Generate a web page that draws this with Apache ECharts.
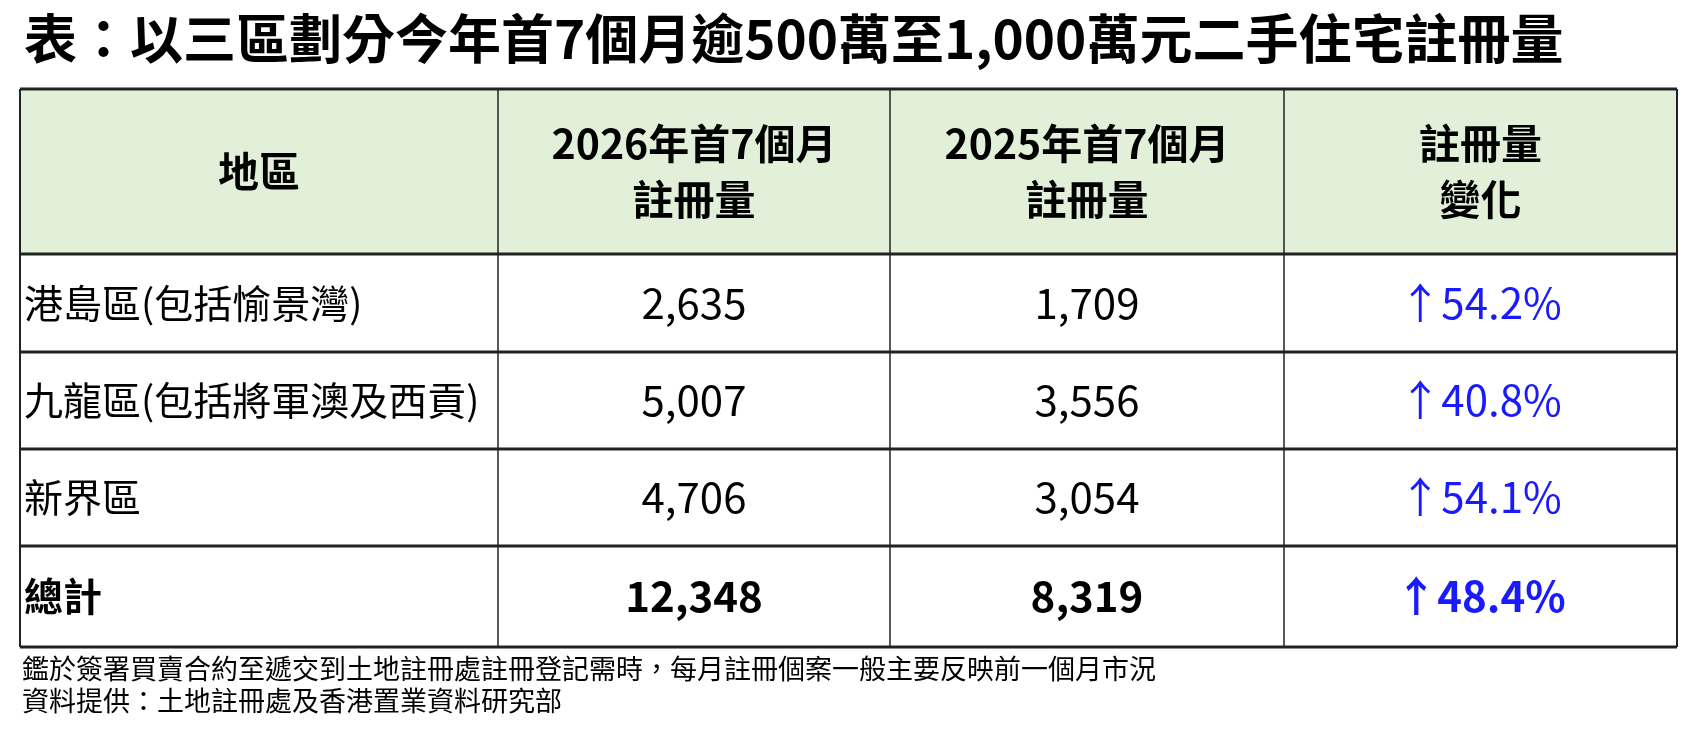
<!DOCTYPE html>
<html>
<head>
<meta charset="utf-8">
<script src="https://cdn.jsdelivr.net/npm/echarts@6/dist/echarts.min.js"></script>
<style>html,body{margin:0;padding:0;background:#fff}#main{width:1696px;height:733px}</style>
</head>
<body>
<div id="main"></div>
<script>
// 表格數據
const titleText = "表：以三區劃分今年首7個月逾500萬至1,000萬元二手住宅註冊量";
const headers = ["地區", "2026年首7個月\n註冊量", "2025年首7個月\n註冊量", "註冊量\n變化"];
const regions = ["港島區(包括愉景灣)", "九龍區(包括將軍澳及西貢)", "新界區", "總計"];
const reg2026 = ["2,635", "5,007", "4,706", "12,348"];
const reg2025 = ["1,709", "3,556", "3,054", "8,319"];
const changes = ["↑54.2%", "↑40.8%", "↑54.1%", "↑48.4%"];
const notes = [
  "鑑於簽署買賣合約至遞交到土地註冊處註冊登記需時，每月註冊個案一般主要反映前一個月市況",
  "資料提供：土地註冊處及香港置業資料研究部"
];

const font = '"Noto Sans CJK TC", "Noto Sans", sans-serif';
const colX = [20, 498, 890, 1284, 1677];
const rowY = [89, 254, 352, 449, 546, 647];

let els = [];
els.push({ type: "text", left: 24, top: 12, style: { text: titleText, font: "bold 53px " + font, fill: "#000" } });
els.push({ type: "rect", shape: { x: colX[0], y: rowY[0], width: colX[4] - colX[0], height: rowY[1] - rowY[0] }, style: { fill: "#e2f0d9" } });

headers.forEach((h, i) => {
  els.push({ type: "text", x: (colX[i] + colX[i + 1]) / 2, y: (rowY[0] + rowY[1]) / 2,
    style: { text: h, font: "bold 41px " + font, fill: "#000", align: "center", verticalAlign: "middle", lineHeight: 56 } });
});

regions.forEach((r, i) => {
  const cy = (rowY[i + 1] + rowY[i + 2]) / 2;
  const bold = i === regions.length - 1 ? "bold " : "";
  els.push({ type: "text", x: colX[0] + 4, y: cy, style: { text: r, font: bold + "39px " + font, fill: "#000", verticalAlign: "middle" } });
  [reg2026[i], reg2025[i]].forEach((v, j) => {
    els.push({ type: "text", x: (colX[j + 1] + colX[j + 2]) / 2, y: cy,
      style: { text: v, font: bold + "42px " + font, fill: "#000", align: "center", verticalAlign: "middle" } });
  });
  els.push({ type: "text", x: (colX[3] + colX[4]) / 2, y: cy,
    style: { text: changes[i], font: bold + "42px " + font, fill: "#1a1aff", align: "center", verticalAlign: "middle" } });
});

// 表格線
rowY.forEach((y) => {
  els.push({ type: "line", shape: { x1: colX[0], y1: y, x2: colX[4], y2: y }, style: { stroke: "#222", lineWidth: 3 } });
});
colX.forEach((x, i) => {
  els.push({ type: "line", shape: { x1: x, y1: rowY[0], x2: x, y2: rowY[5] }, style: { stroke: "#222", lineWidth: i === 0 || i === 4 ? 2 : 1.5 } });
});

notes.forEach((n, i) => {
  els.push({ type: "text", left: 22, top: 655 + i * 32, style: { text: n, font: "27px " + font, fill: "#000" } });
});

const chart = echarts.init(document.getElementById("main"));
chart.setOption({ animation: false, graphic: { elements: els } });
</script>
</body>
</html>
